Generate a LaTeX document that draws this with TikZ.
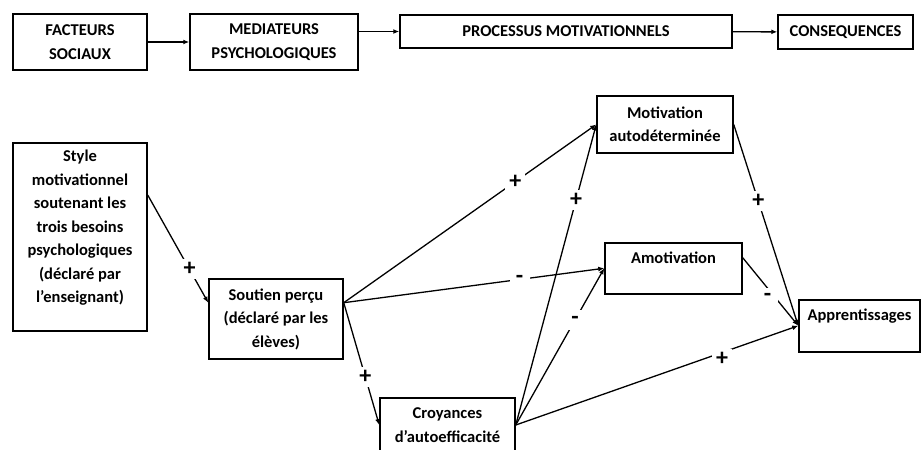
\documentclass[tikz,border=0pt]{standalone}
\usepackage{fontspec}
\setmainfont{Carlito}
\usetikzlibrary{arrows.meta,calc}

\begin{document}
\begin{tikzpicture}[x=1pt,y=-1pt,
  box/.style={draw,line width=1.5pt,align=center,inner sep=0pt,font=\fontsize{16.5}{23.5}\selectfont\bfseries},
  textbox/.style 2 args={text height=#1,text depth=#2},
  link/.style={line width=1.3pt,-{Latex[length=6pt,width=5pt]}},
  sign/.style={fill=white,inner sep=0pt,minimum size=20pt,font=\fontsize{24}{24}\selectfont\bfseries}]
  \clip (0,0) rectangle (922,450);
  % top row
  \node[box,minimum width=134pt,minimum height=56pt] (fact) at (80,42) {FACTEURS\\SOCIAUX};
  \node[box,minimum width=168pt,minimum height=56pt] (med) at (274,42) {MEDIATEURS\\PSYCHOLOGIQUES};
  \node[box,minimum width=332pt,minimum height=33pt] (proc) at (566,31.5) {PROCESSUS MOTIVATIONNELS};
  \node[box,minimum width=135pt,minimum height=34pt] (cons) at (845.5,32) {CONSEQUENCES};
  \draw[link] (fact) -- (med);
  \draw[link] (med.east |- proc.west) -- (proc.west);
  \draw[link] (proc) -- (cons);
  % model
  \node[box,minimum width=134pt,textbox={160pt}{28pt},anchor=north] (style) at (80,142) {Style\\motivationnel\\soutenant les\\trois besoins\\psychologiques\\(déclaré par\\l'enseignant)};
  \node[box,minimum width=134pt,minimum height=80pt] (sout) at (276,319) {Soutien perçu\\(déclaré par les\\élèves)};
  \node[box,minimum width=135pt,minimum height=54pt] (croy) at (447.5,425) {Croyances\\d'autoefficacité};
  \node[box,minimum width=136pt,minimum height=57pt] (motiv) at (665,124.5) {Motivation\\autodéterminée};
  \node[box,minimum width=137pt,textbox={21pt}{30pt},anchor=north] (amot) at (673.5,242) {Amotivation};
  \node[box,minimum width=121pt,textbox={21pt}{31pt},anchor=north] (appr) at (859.5,299) {Apprentissages};
  \coordinate (style-out) at ($(style.north east)!0.28!(style.south east)$);
  \coordinate (sout-in) at ($(sout.north west)!0.3!(sout.south west)$);
  \coordinate (sout-out) at ($(sout.north east)!0.3!(sout.south east)$);
  \coordinate (amot-out) at ($(amot.north east)!0.3!(amot.south east)$);
  \draw[link] (style-out) -- node[sign,pos=0.69] (s1) {+} (sout-in);
  \draw[link] (sout-out) -- node[sign,pos=0.68] (s2) {+} (motiv.west);
  \draw[link] (sout-out) -- node[sign,pos=0.675] (s3) {-} (amot.west);
  \draw[link] (sout-out) -- node[sign,pos=0.61] (s4) {+} (croy.west);
  \draw[link] (croy.east) -- node[sign,pos=0.75] (s5) {+} (motiv.west);
  \draw[link] (croy.east) -- node[sign,pos=0.67] (s6) {-} (amot.west);
  \draw[link] (croy.east) -- node[sign,pos=0.73,yshift=-6pt] (s7) {+} (appr.west);
  \draw[link] (motiv.east) -- node[sign,pos=0.38] (s8) {+} (appr.west);
  \draw[link] (amot-out) -- node[sign,pos=0.59,xshift=-8pt] (s9) {-} (appr.west);
\end{tikzpicture}
\end{document}
